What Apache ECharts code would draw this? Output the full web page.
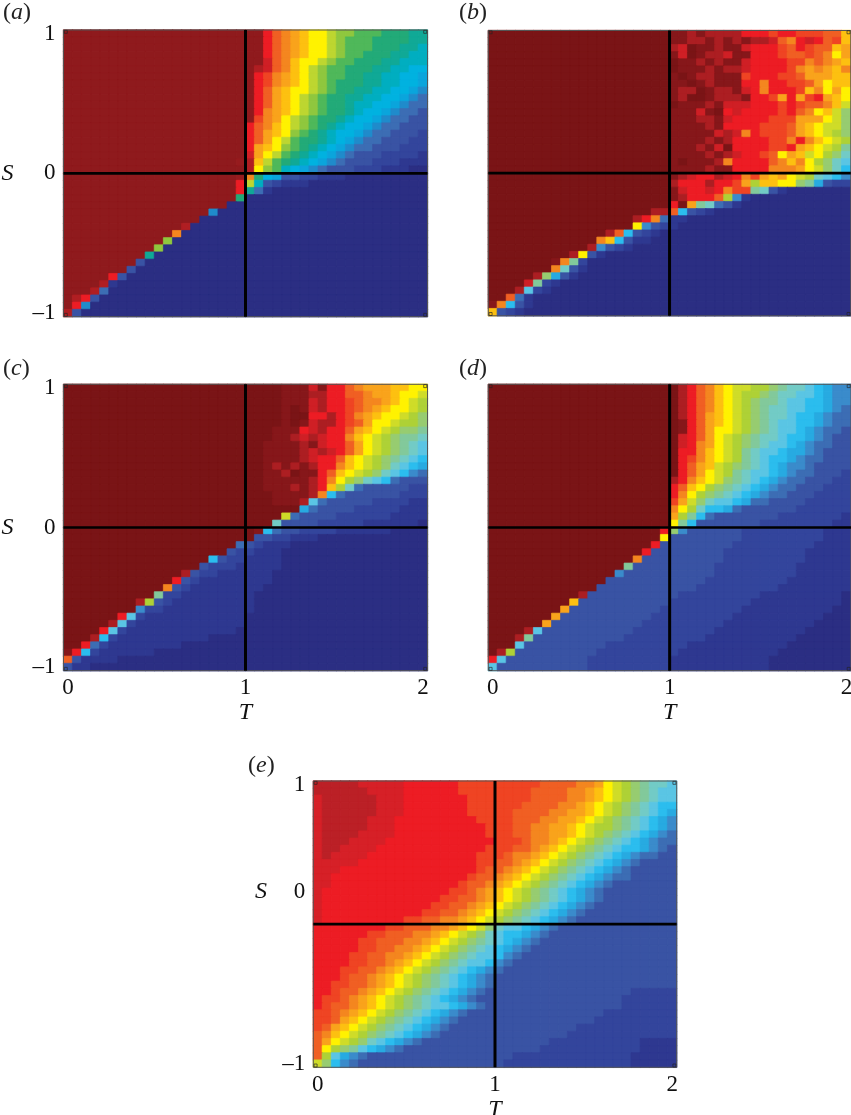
<!DOCTYPE html>
<html><head><meta charset="utf-8">
<style>html,body{margin:0;padding:0;background:#fff}#c{width:851px;height:1115px}</style>
<script src="https://cdn.jsdelivr.net/npm/echarts@6/dist/echarts.min.js"></script>
</head><body><div id="c"></div>
<script>
// Colour level of each cell (base-36 character, 0 = low, o = high).
// Rows run from S = 1 (top) to S = -1 (bottom); "c*n" repeats a level, a short row continues its last level.
const panelA = [
"o*20 ookihgfeedccbbbaaa99","o*20 ookihgfeedcbbbaaaa99","o*20 ookihgfeedcbbbaaa998","o*20 ookihgfeedcbbaaa9988",
"o*20 oolihfeedcbbaaa99888","o*20 omlihfedcbbaaa998877","o*20 okjhgfedcbbaa9988776","o*20 okjhgfedcbaaa9988776",
"o*20 okigfeedcbaa99887765","o*20 okigfedcbaa998877654","o*20 okigfedcbaa988776544","o*20 okhgfedcbaa987765443",
"o*20 ojhgedcbaa9877654433","o*20 kihfedcba98776544333","o*20 kigfecba987765443332","o*20 kigedbaa987654433322",
"o*20 kgfecba9876544333222","o*20 lgedba98765433322221","o*19 n mfdba987654333222111","o*20 mecb8765433322211100",
"o*19 n ha763322111000000000","o*19 k d8321110000000000000","o*19 k 94100","o*19 a 0",
"o*18 0","o*16 50","o*15 0","o*13 m0","o*12 h0","o*11 c0",
"o*10 c0","o*9 90","o*8 30","o*7 30","o*5 k30","o*4 m10",
"o*3 m40","o*1 mk30","o k50","m30"];
const panelB = [
"o*20 nnmnmmmmkkkjkkjjjiif","o*20 nnmmnmnmnmmlihklkijf","o*20 mlonnmnnlkkkjikjiifg","o*20 nlonmmlnnkkkjiijiheg",
"o*20 onnmnmnnlkkkkjjhihgf","o*20 onnnmnmmlkkkkjhghgfh","o*20 nonmmnnnjkkkjjigggff","o*20 nnonmnnnkkhkkjjigeff",
"o*20 nmmonmmnlkhkkkjfhege","o*20 nmoonmmmnkkjgkgjkgfe","o*20 onnnmnlllkkkjkjiihfd","o*20 nnnlnoklkkkkjkihefdb",
"o*20 nnnmmnlkkkkjjjgggedb","o*20 nnnnmnkkkkjjjigfeddb","o*20 nnnnnlmlhkjjjigfedcb","o*20 nnnnmnmkkkkjjhkhfedc",
"o*20 nnnmnlokkkkjjkgfedca","o*20 nnnnmnmlkkjiegfdecb9","o*20 nonnnmhkkkkihfhecb98","o*20 nnnnmnnkkkkhhhgedb97",
"o*20 nmlkkmlkhjgfgedc9875","o*20 mkkkmkkjgcffeeba6322","o*20 nlkklkhjja9310","o*20 nmkkkic510",
"o*20 koga94310","o*18 mmi73210","o*16 mkh41 10","o*16 e53210","o*13 mi73210","o*12 hf73110",
"o*11 m53210","o*9 me310","o*7 nha20","o*7 h9310","o*5 mb6310","o*4 la210",
"o*3 m8210","o*2 i410","nh7310","f3210"];
const panelC = [
"o*24 nnnlnkkihgggffee","o*24 nnnmmkkiihggfeed","o*24 nnnlmkkjihhgfedc","o*24 nonlmkkjihgfeedc",
"o*24 nookkmkjhgfeedcb","o*24 nonlmmkjigeedccb","o*23 nnnklmkkigfedcbba","o*23 nnmlmlkkhfedcbaa9",
"o*22 nnnnmnlkkigedcba98","o*22 nnnnmlmlkigedcba98","o*22 nnnnmlkkifedcba987","o*22 nmnmnmkkhfedcb9876",
"o*22 nnmonnkifedcb98754","o*22 nnnnnmkhecb9874333","o*22 nnnmnmkfc943333322","o*22 onnnnmh74333333222",
"o*22 onnnm8433333222211","o*26 64333322222111","o*24 d433332222221111","o*23 93333222221111110",
"o*21 n743322221111110","o*21 33221110","o*19 4 3 2 1 1 1 0","o*18 3 2 2 1 1 1 0",
"o*16 7 3 2 2 1 1 1 1 0","o*15 3 2 2 2 1 1 1 1 1 0","o*13 m 3 2 2 1*6 0","o*12 k 3 2 1*8 0",
"o*11 h 3 2 1*8 0","o*10 a 2 2 1*8 0","o*8 m c 3 2 1*9 0","o*8 5 2 2 1*10 0",
"o*6 k 8 2 1*11 0","o*5 m 8 2 1*12 0","o*4 k 8 2 1*12 0","o*3 m 7 2 1*10 0",
"o*2 k 4 2 1*8 0","n k 7 2 1*6 0","i 3 1*4 0","3 1 1 0"];
const panelD = [
"o*20 omkihfeddccba9987655","o*20 omkihfedccba99887655","o*20 omkihfedcbaa98877655","o*20 omkihfedcba998877654",
"o*20 omkigfedcba998776544","o*20 onkigfedcba988776544","o*20 onkigeedcba988765443","o*20 olkigedcba99877654 33",
"o*20 olkhgedcba9887654433","o*20 okkhfedca98876654333","o*20 okjhfedca98776544333","o*20 okigfdcba98765543333",
"o*20 okigedca988765443 332","o*20 mkhfedba987654433322","o*20 kifecba9876544333222","o*20 khecba98765443332222",
"o*20 jgdb9887644333322222","o*20 hec9776433333322222 2","o*20 gca74333333322222221","o*20 ea7333333322222222 11",
"o*19 kb5 3*6 2*9 1*3","o*19 e 3*8 2*9 1*3","o*18 k 3*8 2*9 1*4","o*17 k 3*8 2*9 1*5",
"o*16 h 3*9 2*9 1*5","o*15 a 3*9 2*9 1*6","o*14 5 3*10 2*9 1*6","o*13 3*11 2*9 1*7",
"o*12 3*11 2*9 1*8","o*10 m 3*10 2*9 1*9 0","o*9 f 3*10 2*9 1*10 0","o*8 g 3*10 2*9 1*10 0*2",
"o*7 g 3*10 2*9 1*10 0*3","o*6 g 3*10 2*9 1*10 0*4","o*4 m8 3*10 2*9 1*10 0*5","o*3 ma 3*10 2*9 1*10 0*6",
"o*3 8 3*9 2*9 1*11 0*7","o*1 mc 3*9 2*9 1*11 0*8","k8 3*9 2*9 1*11 0*9","83 3*9 2*9 1*11 0*9"];
const panelE = [
"m*5 l*5 k*6 j*9 i*4 h*2 g e d c b a 9 9 8 8","m*6 l*4 k*6 j*8 i*4 h*2 g f e d c b a 9 8 8 7",
"l m*6 l*3 k*7 j*7 i*4 h*2 g f e d c b a 9 8 8 7","l m*6 l*3 k*7 j*6 i*4 h*2 g f e d c b a 9 8 7 7 6",
"l m*6 l*3 k*7 j*5 i*4 h*2 g*2 f e d c b a 9 8 7 6 5 4","l m*5 l*3 k*9 j*4 i*3 h*2 g*2 f e d c b a 9 8 7 6 5 4",
"l m*5 l*3 k*10 j*3 i*2 h*2 g*2 f e d c c b a 9 8 7 6 5 4","l m*4 l*4 k*10 j*3 i*2 h*2 g*2 f e d c b a 9 8 7 6 5 4 4",
"l m*3 l*4 k*12 j*3 i h*2 g f e d c b a 9 8 7 6 5 4 4 3 3","l m*2 l*4 k*12 j*3 i*2 h g f e d c b a 9 8 7 7 6 5 4 3 3 3",
"l m l*4 k*12 j*3 i h*2 g f e d c b a 9 8 7 6 5 4 4 3 3 3 3","l*5 k*13 j*2 i*2 h g f e d c b a 9 8 7 6 5 4 3 3 3 3 3",
"l*3 k*15 j i*2 h g f e d c b a 9 8 7 6 5 4 3*5","l*2 k*15 j i*2 h g f e d c b a 9 8 7 6 5 4 4 3*5",
"l*2 k*14 j i*2 h g f e d c b a 9 8 7 6 5 4 3*7","l k*14 j*2 i h g f e d c b a 9 8 7 6 5 4 3*8",
"l k*13 j*2 i*2 h g f e d c b a 9 8 7 6 5 4 3*8","l k*12 j*2 i*2 h g f e d c b a 9 8 7 6 5 4 3*9",
"l k*11 j*2 i*2 h g f e d c b a 9 8 7 6 5 4 3*10","l k*9 j*2 i*2 h*2 g f e d c b a 9 8 7 6 5 4 3*11",
"k*8 j*2 i*3 h*2 g f e d b 9 8 8 7 6 5 4 3*13","k*6 j*2 i*3 h*2 g f e d c b 9 8 7 7 6 5 4 3*14",
"k*5 j*2 i*3 h*2 g f e d c b a 9 8 7 6 5 4 3*15","k*5 j*2 i*2 h*2 g f e d c b a 9 8 7 6 5 4 3*16",
"k*4 j*2 i*2 h*2 g f e d c b a 9 8 8 7 5 4 3*17","k*4 j*2 i*2 h g f e d c b a 9 8 8 7 5 4 3*18",
"k*3 j*2 i*2 h g f e d c b a 9 8 7 6 5 4 3*19","k*3 j i*2 h g f e d c b a 9 8 7 6 5 4 3*20",
"k*2 j*2 i*2 h g f e d c b a 9 8 7 6 5 4 3*20","k*2 j i*2 h g f e d c b a 9 8 7 6 5 4 3*16 2*5",
"k j*2 i h g f e d c b a 9 8 7 6 5 4 3*16 2*6","k j i*2 h g f e d c b a 9 8 8 7 6 5 4 3*15 2*6",
"j*2 i h g f e d c b a 9 8 7 6 5 4 3*15 2*8","j*2 i g f e d c b a 9 8 7 6 5 4 3*15 2*9",
"j i g f e d c b a 9 8 7 6 5 4 3*14 2*11","i h f e d c b a 9 8 7 6 5 4 3*14 2*12",
"i g e d c b 9 8 7 6 5 4 3*14 2*10 1*4","i e c b a 8 7 6 5 4 3*15 2*11 1*4",
"i c 8 6 5 4 3*16 2*13 1*5","d b 7 5 4 3*16 2*14 1*5"];

const panelNames = ['a','b','c','d','e'];
const tTicks = [0,1,2], tTickLabels = ['0','1','2'];
const sTicks = [-1,0,1], sTickLabels = ['–1','0','1'];
const sTicksE = [-1,0.23,1];
const cornerT = [-0.012,2.012], cornerS = [-1.012,1.012];
const tRange = [-0.025,2.025], sRange = [-1.025,1.025];

const softRamp = ['#2b2e83','#2e3890','#33459c','#3953a4','#3c6db4','#3a8bcb','#27aae1','#2bbdee','#5ac5e4','#72cbc6','#82c99b','#97cc70','#aed136','#cfdc28','#fff200','#fdc010','#f9a31b','#f4861f','#f05f23','#ef4423','#ed1c24','#cf1f25','#ac1e22','#86171a','#7a1416'];
const vividRamp = ['#2b2e83','#2e3890','#33459c','#3953a4','#3c6db4','#1f8bcb','#0aa5dc','#00b2e0','#00aec0','#10a996','#22aa78','#4fb85a','#8fc73e','#bdd630','#fff200','#fdc010','#f9a31b','#f4861f','#f05f23','#ef4423','#ed1c24','#d01f25','#b01e22','#971b1e','#8f1a1d'];
const mildRamp = softRamp.map((c,i)=>i===22?'#bb2026':i===21?'#d62027':c);

const panels = [
 {rows:panelA, ramp:vividRamp, rect:[63.5,30,364,286.7], showT:false, showS:true,  letterAt:[3,14]},
 {rows:panelB, ramp:softRamp,  rect:[488.3,30.5,362.5,285.3], showT:false, showS:false, letterAt:[459,14]},
 {rows:panelC, ramp:softRamp,  rect:[63.5,384.3,364,286.4], showT:true, showS:true, letterAt:[3,370]},
 {rows:panelD, ramp:softRamp,  rect:[488.3,384.3,362.7,286.4], showT:true, showS:false, letterAt:[459,370]},
 {rows:panelE, ramp:mildRamp,  rect:[313.3,781,363.4,286.3], showT:true, showS:true, letterAt:[248,767], sTicks:sTicksE, sApart:[261,892]}
];

const COLS = 40;
function expand(row){
  let s='';
  row.split(' ').forEach(tok=>{
    if(tok.includes('*')){const [c,n]=tok.split('*'); s+=c.repeat(+n);} else s+=tok;
  });
  return s.padEnd(COLS,s[s.length-1]).slice(0,COLS);
}
const cats = Array.from({length:COLS},(_,i)=>String(i));
const FONT = '"Liberation Serif","Times New Roman",serif';
const grid=[],xAxis=[],yAxis=[],series=[],graphic=[];
panels.forEach((p,i)=>{
  const [l,t,w,h]=p.rect;
  grid.push({left:l,top:t,width:w,height:h,show:true,z:5,backgroundColor:'transparent',borderColor:'#555',borderWidth:1,containLabel:false,outerBoundsMode:'none'});
  const catX=xAxis.length, valX=catX+1, catY=yAxis.length, valY=catY+1;
  xAxis.push({gridIndex:i,type:'category',data:cats,show:false});
  xAxis.push({gridIndex:i,type:'value',min:tRange[0],max:tRange[1],position:'bottom',
    axisLine:{show:false},axisTick:{show:false},splitLine:{show:false},
    axisLabel:{show:p.showT,customValues:tTicks,margin:6,color:'#111',fontFamily:FONT,fontSize:23,
      formatter:v=>tTickLabels[tTicks.indexOf(v)]},
    name:p.showT?'T':'',nameLocation:'middle',nameGap:29,
    nameTextStyle:{color:'#111',fontFamily:FONT,fontStyle:'italic',fontSize:24}});
  yAxis.push({gridIndex:i,type:'category',data:cats,show:false});
  const st=p.sTicks||sTicks;
  yAxis.push({gridIndex:i,type:'value',min:sRange[0],max:sRange[1],position:'left',
    axisLine:{show:false},axisTick:{show:false},splitLine:{show:false},
    axisLabel:{show:p.showS,customValues:st,margin:8,color:'#111',fontFamily:FONT,fontSize:23,padding:[3,0,0,0],
      formatter:v=>sTickLabels[st.indexOf(v)]},
    name:(p.showS&&!p.sApart)?'S':'',nameLocation:'middle',nameGap:50,nameRotate:0,
    nameTextStyle:{color:'#111',fontFamily:FONT,fontStyle:'italic',fontSize:24}});
  const data=[];
  p.rows.forEach((row,r)=>{
    const s=expand(row);
    for(let k=0;k<COLS;k++){
      const c=p.ramp[parseInt(s[k],36)];
      data.push({value:[k,p.rows.length-1-r,parseInt(s[k],36)],itemStyle:{color:c,borderColor:c,borderWidth:0.7}});
    }
  });
  series.push({type:'heatmap',xAxisIndex:catX,yAxisIndex:catY,data,silent:true,progressive:0,z:2});
  const lineBase={type:'line',xAxisIndex:valX,yAxisIndex:valY,showSymbol:false,symbol:'none',silent:true,z:6,animation:false};
  series.push({...lineBase,data:[[1,sRange[0]],[1,sRange[1]]],lineStyle:{color:'#000',width:3}});
  series.push({...lineBase,data:[[tRange[0],0],[tRange[1],0]],lineStyle:{color:'#000',width:2.6}});
  const corners=[];
  cornerT.forEach(a=>cornerS.forEach(b=>corners.push([a,b])));
  series.push({type:'scatter',xAxisIndex:valX,yAxisIndex:valY,data:corners,symbol:'rect',symbolSize:3,silent:true,z:7,animation:false,
    itemStyle:{color:'rgba(0,0,0,0)',borderColor:'#222',borderWidth:0.8}});
  graphic.push({type:'text',left:p.letterAt[0],top:p.letterAt[1]-13,z:20,silent:true,
    style:{text:'{p|(}{i|'+panelNames[i]+'}{p|)}',rich:{p:{fontFamily:FONT,fontSize:24,fill:'#222'},i:{fontFamily:FONT,fontStyle:'italic',fontSize:24,fill:'#222'}}}});
  if(p.sApart){
    graphic.push({type:'text',left:p.sApart[0]-6,top:p.sApart[1]-12,z:20,silent:true,
      style:{text:'S',fontFamily:FONT,fontStyle:'italic',fontSize:24,fill:'#111'}});
  }
});
const chart=echarts.init(document.getElementById('c'),null,{renderer:'canvas'});
chart.setOption({animation:false,backgroundColor:'#fff',grid,xAxis,yAxis,series,graphic});
</script></body></html>
